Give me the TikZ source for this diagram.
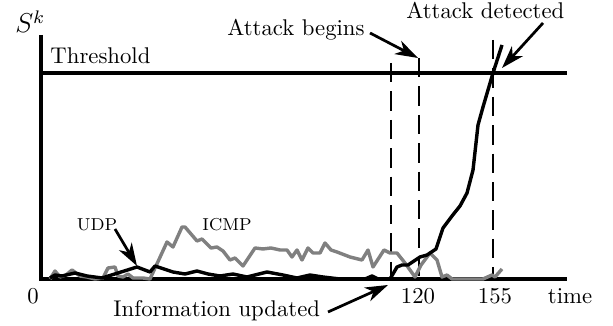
\documentclass[tikz,border=0pt]{standalone}
\usetikzlibrary{arrows.meta}
\begin{document}
\begin{tikzpicture}[x=0.44pt,y=-0.44pt,
  axis/.style={line width=1.5pt},
  vdash/.style={line width=1pt,dash pattern=on 8.5pt off 4pt},
  udpline/.style={line width=1.5pt,line join=round},
  icmpline/.style={line width=1.5pt,line join=round,draw=black!50},
  lbl/.style={inner sep=0pt,anchor=base west},
  tick/.style={inner sep=0pt,anchor=base},
  small/.style={inner sep=0pt,anchor=base,font=\fontsize{7.6}{9}\selectfont},
  pointer/.style={line width=1.2pt,-{Stealth[length=10pt,width=6.5pt,inset=3pt]}}]
\useasboundingbox (0,0) rectangle (613,326);
% axes
\coordinate (o) at (41,279);
\coordinate (ytop) at (41,35);
\coordinate (xend) at (567,279);
\coordinate (t0) at (41,73);
\coordinate (t1) at (567,73);
\draw[axis] (ytop) -- (o) -- (xend);
\draw[axis] (t0) -- (t1);
% dashed verticals
\coordinate (d1t) at (391,63); \coordinate (d1b) at (391,279);
\coordinate (d2t) at (419,58); \coordinate (d2b) at (419,279);
\coordinate (d3t) at (493,40); \coordinate (d3b) at (493,279);
\draw[vdash] (d1t) -- (d1b);
\draw[vdash] (d2t) -- (d2b);
\draw[vdash] (d3t) -- (d3b);
% ICMP curve
\draw[icmpline] (50,279) -- (55,271) -- (60,277) -- (66,275) -- (72,270) -- (80,276) -- (87,277) -- (95,279) -- (103,278) -- (108,268) -- (115,267) -- (118,276) -- (123,277) -- (128,274) -- (133,278) -- (143,278) -- (150,279) -- (167,242) -- (173,247) -- (182,227) -- (185,227) -- (197,241) -- (202,239) -- (211,248) -- (217,247) -- (223,251) -- (230,260) -- (235,258) -- (243,266) -- (255,248) -- (263,249) -- (271,248) -- (280,250) -- (287,250) -- (292,257) -- (297,250) -- (302,260) -- (308,248) -- (313,253) -- (320,253) -- (325,243) -- (331,250) -- (337,252) -- (350,257) -- (362,260) -- (368,250) -- (373,267) -- (384,250) -- (390,253) -- (397,253) -- (405,263) -- (415,277) -- (421,265) -- (430,253) -- (437,260) -- (442,277) -- (447,275) -- (452,279) -- (483,279) -- (492,275) -- (495,277) -- (502,269);
% UDP / attack curve
\draw[udpline] (50,278) -- (55,275) -- (62,276) -- (75,273) -- (87,276) -- (102,278) -- (137,267) -- (150,272) -- (155,266) -- (173,272) -- (185,274) -- (197,271) -- (208,274) -- (220,276) -- (233,274) -- (247,277) -- (267,272) -- (283,275) -- (297,278) -- (310,275) -- (323,277) -- (340,279) -- (365,279) -- (372,276) -- (378,279) -- (390,279) -- (397,267) -- (402,265) -- (408,265) -- (420,257) -- (427,255) -- (436,249) -- (443,228) -- (452,216) -- (460,206) -- (467,193) -- (473,170) -- (478,125) -- (483,107) -- (493,73) -- (502,45);
% labels
\node[lbl,font=\large] (sk) at (15,33) {$S^k$};
\node[lbl] (thr) at (50,64) {Threshold};
\node[lbl] (ab) at (227,36) {Attack begins};
\node[lbl] (ad) at (406,19) {Attack detected};
\node[lbl] (iu) at (113,317) {Information updated};
\node[tick] (n0) at (33,304) {0};
\node[tick] (n120) at (418,304) {120};
\node[tick] (n155) at (495,304) {155};
\node[tick] (ntime) at (570,304) {time};
\node[small] (udp) at (97,231) {UDP};
\node[small] (icmp) at (227,231) {ICMP};
% pointers
\coordinate (abs) at (370,33);   \coordinate (abtip) at (418,58);
\coordinate (ads) at (543,23);   \coordinate (adtip) at (502,68);
\coordinate (ius) at (328,312);  \coordinate (iutip) at (388,285);
\coordinate (udps) at (115,229); \coordinate (udptip) at (137,266);
\draw[pointer] (abs) -- (abtip);
\draw[pointer] (ads) -- (adtip);
\draw[pointer] (ius) -- (iutip);
\draw[pointer] (udps) -- (udptip);
\end{tikzpicture}
\end{document}
